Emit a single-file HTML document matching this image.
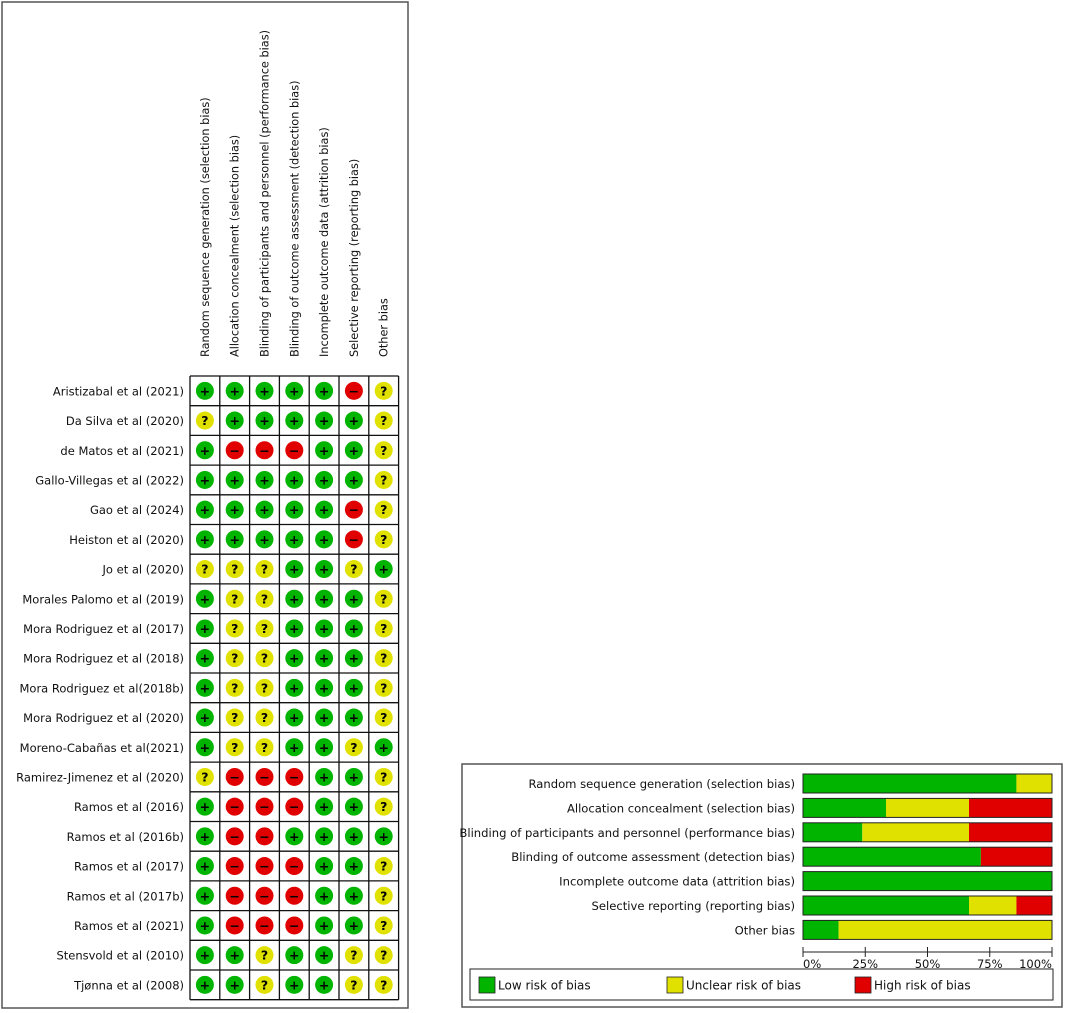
<!DOCTYPE html>
<html><head><meta charset="utf-8">
<style>
html,body{margin:0;padding:0;background:#fff;}
svg{display:block;font-family:"DejaVu Sans","Liberation Sans",sans-serif;}
</style></head>
<body>
<svg id="c" width="1065" height="1013" viewBox="0 0 1065 1013">
<rect x="2" y="2" width="406" height="1006" fill="none" stroke="#555" stroke-width="1.5"/>
<rect x="462" y="764" width="600" height="243" fill="none" stroke="#555" stroke-width="1.5"/>
<g id="summary"></g>
<g id="graph"></g>
</svg>
<script>
const domains = ["Random sequence generation (selection bias)","Allocation concealment (selection bias)","Blinding of participants and personnel (performance bias)","Blinding of outcome assessment (detection bias)","Incomplete outcome data (attrition bias)","Selective reporting (reporting bias)","Other bias"];
const studies = ["Aristizabal et al (2021)","Da Silva et al (2020)","de Matos et al (2021)","Gallo-Villegas et al (2022)","Gao et al (2024)","Heiston et al (2020)","Jo et al (2020)","Morales Palomo et al (2019)","Mora Rodriguez et al (2017)","Mora Rodriguez et al (2018)","Mora Rodriguez et al(2018b)","Mora Rodriguez et al (2020)","Moreno-Cabañas et al(2021)","Ramirez-Jimenez et al (2020)","Ramos et al (2016)","Ramos et al (2016b)","Ramos et al (2017)","Ramos et al (2017b)","Ramos et al (2021)","Stensvold et al (2010)","Tjønna et al (2008)"];
const judgements = [
"+++++-?","?+++++?","+---++?","++++++?","+++++-?","+++++-?","???++?+","+??+++?","+??+++?","+??+++?","+??+++?","+??+++?","+??++?+","?---++?","+---++?","+--++++","+---++?","+---++?","+---++?","++?++??","++?++??"];
const tickLabels = ["0%","25%","50%","75%","100%"];
const legendLabels = ["Low risk of bias","Unclear risk of bias","High risk of bias"];

const NS="http://www.w3.org/2000/svg";
const COL={"+":"#00b400","?":"#e1e100","-":"#e00000"};
function mk(tag,attrs,parent,text){const e=document.createElementNS(NS,tag);for(const k in attrs)e.setAttribute(k,attrs[k]);if(text!==undefined)e.textContent=text;parent.appendChild(e);return e;}

const sg=document.getElementById('summary');
const gx0=190, gy0=376, cw=29.8, rh=29.7;
const colX=i=>gx0+cw*i, rowY=j=>gy0+rh*j;
domains.forEach((d,i)=>{
  const t=mk('text',{x:colX(i)+cw/2+4,y:357,transform:`rotate(-90 ${colX(i)+cw/2+4} 357)`,'font-size':'11.3',fill:'#111'},sg,d);
  
  
});
studies.forEach((s,j)=>{
  const t=mk('text',{x:184,y:rowY(j)+rh/2+4.5,'text-anchor':'end','font-size':'11.5',fill:'#111'},sg,s);
  
  
  for(let i=0;i<domains.length;i++){
    const v=judgements[j][i];
    const cx=colX(i)+cw/2, cy=rowY(j)+rh/2;
    const c=mk('circle',{cx:cx,cy:cy,r:9,fill:COL[v]},sg);
    
    
    const sym=v==='-'?'−':v;
    const st=mk('text',{x:cx,y:cy+4.5,'text-anchor':'middle','font-size':'12.5','font-weight':'bold',fill:'#000'},sg,sym);
    
    
  }
});
for(let j=0;j<=studies.length;j++) mk('line',{x1:gx0,x2:colX(domains.length),y1:rowY(j),y2:rowY(j),stroke:'#111','stroke-width':1.3},sg);
for(let i=0;i<=domains.length;i++) mk('line',{x1:colX(i),x2:colX(i),y1:gy0,y2:rowY(studies.length),stroke:'#111','stroke-width':1.3},sg);

const gg=document.getElementById('graph');
const bx0=803, bx1=1052;
const xs=p=>bx0+(bx1-bx0)*p/100;
const by0=774, bstep=24.4, bh=19;
domains.forEach((d,i)=>{
  const n=studies.length;
  let cnt={"+":0,"?":0,"-":0};
  judgements.forEach(r=>cnt[r[i]]++);
  const pct={"+":cnt["+"]/n*100,"?":cnt["?"]/n*100,"-":cnt["-"]/n*100};
  const y=by0+bstep*i;
  const l=mk('text',{x:795,y:y+bh/2+4.5,'text-anchor':'end','font-size':'11.6',fill:'#111'},gg,d);
  
  
  let acc=0;
  ["+","?","-"].forEach(k=>{
    if(pct[k]<=0)return;
    const r=mk('rect',{x:xs(acc),y:y,width:xs(acc+pct[k])-xs(acc),height:bh,fill:COL[k]},gg);
    
    
    acc+=pct[k];
  });
  mk('rect',{x:bx0,y:y,width:bx1-bx0,height:bh,fill:'none',stroke:'#222','stroke-width':1},gg);
});
const ay=952;
mk('line',{x1:bx0,x2:bx1,y1:ay,y2:ay,stroke:'#222','stroke-width':1},gg);
tickLabels.forEach((t,i)=>{
  const x=xs(i*25);
  mk('line',{x1:x,x2:x,y1:ay-5,y2:ay+5,stroke:'#222','stroke-width':1},gg);
  const anchor=i===0?'start':(i===4?'end':'middle');
  const tl=mk('text',{x:x,y:ay+16,'text-anchor':anchor,'font-size':'11.5',fill:'#111'},gg,t);
  
  
});
const lg=mk('rect',{x:470,y:969,width:583,height:31,fill:'none',stroke:'#222','stroke-width':1},gg);


const lx=[479,667,855], lk=["+","?","-"];
legendLabels.forEach((t,i)=>{
  const sw=mk('rect',{x:lx[i],y:977,width:16,height:16,fill:COL[lk[i]],stroke:'#222','stroke-width':0.8},gg);
  
  
  const tx=mk('text',{x:lx[i]+19,y:989.5,'font-size':'12',fill:'#111'},gg,t);
  
  
});
</script>
</body></html>
